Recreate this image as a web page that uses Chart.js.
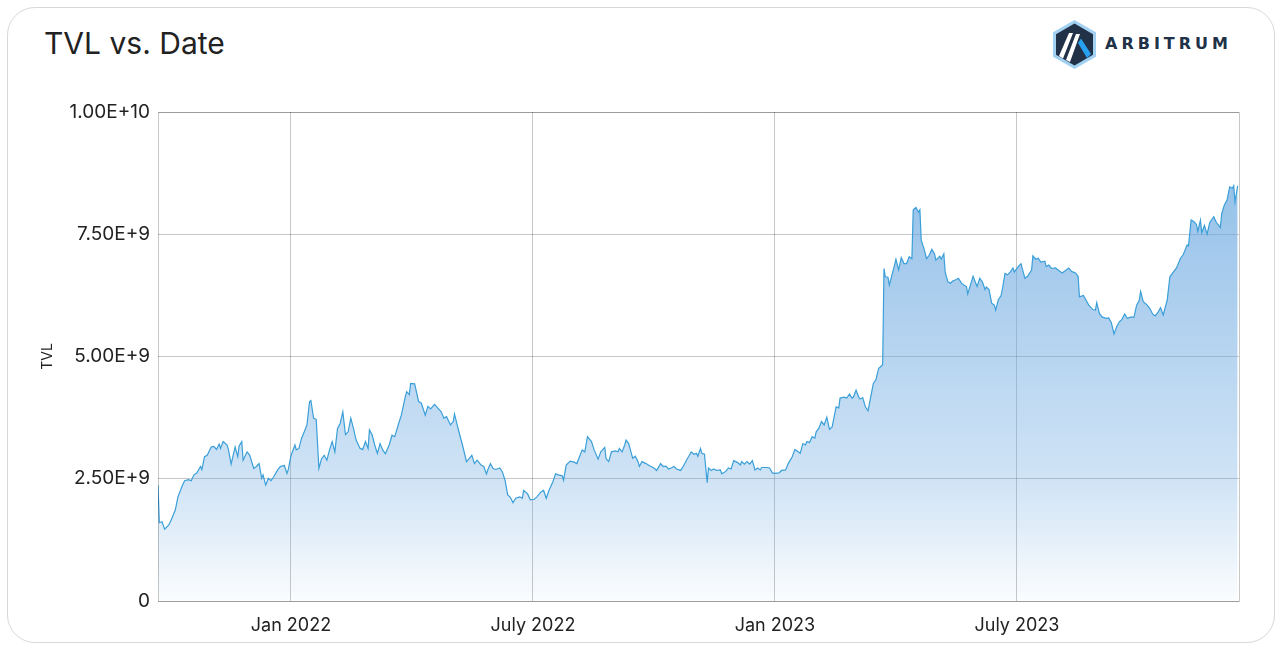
<!DOCTYPE html>
<html>
<head>
<meta charset="utf-8">
<script src="https://cdn.jsdelivr.net/npm/chart.js@4.4.1/dist/chart.umd.min.js"></script>
<style>
  body { margin: 0; background: #fff; font-family: Inter, "Noto Sans", sans-serif; }
  #pagina { position: relative; width: 1281px; height: 645px; overflow: hidden; }
  .tarjeta { position: absolute; left: 7px; top: 7px; width: 1268px; height: 636px; box-sizing: border-box;
             border: 1px solid #d8d8d8; border-radius: 28px; }
  .titulo { position: absolute; left: 44px; top: 28px; font-size: 30px; line-height: 1; color: #222; }
  .logo { position: absolute; left: 1053px; top: 20px; }
  .marca { position: absolute; left: 1105px; top: 36px; font-family: "DejaVu Sans", sans-serif; font-size: 16px;
           line-height: 1; font-weight: 700; letter-spacing: 4px; color: #213147; }
  canvas { position: absolute; left: 0; top: 0; }
</style>
</head>
<body>
<div id="pagina">
  <div class="tarjeta"></div>
  <div class="titulo">TVL vs. Date</div>
  <svg class="logo" width="43" height="49" viewBox="0 0 43 49">
    <polygon points="21.5,0 43,12.25 43,36.75 21.5,49 0,36.75 0,12.25" fill="#a3d1f2"/>
    <polygon points="21.5,3.5 40,14.2 40,34.8 21.5,45.5 3,34.8 3,14.2" fill="#213147"/>
    <polygon points="6,36 10,38.5 20,13 16,13" fill="#fff"/>
    <polygon points="13,40 17,42 27,14 23,14" fill="#fff"/>
    <polygon points="25,23 28,18.5 38,34 34,38" fill="#28a0f0"/>
  </svg>
  <div class="marca">ARBITRUM</div>
  <canvas id="grafico" width="1281" height="645"></canvas>
</div>
<script>
// dias desde el 1 ene 2022, TVL en miles de millones de USD
const dias = [
  -100, -99, -97, -95, -92, -90, -87, -85, -82, -80, -77, -75, -73, -71, -68, -67, -65, -63, -60, -58,
  -56, -54, -53, -51, -48, -47, -45, -42, -40, -39, -37, -36, -33, -31, -28, -26, -24, -22, -21, -19,
  -17, -15, -13, -10, -8, -5, -3, -2, 0, 3, 4, 6, 8, 10, 12, 14, 15, 17, 19, 21,
  23, 25, 27, 29, 31, 33, 35, 37, 39, 41, 43, 45, 47, 49, 52, 54, 56, 58, 59, 61,
  63, 65, 67, 69, 71, 74, 76, 78, 81, 83, 86, 87, 89, 90, 93, 96, 98, 101, 103, 105,
  108, 111, 113, 115, 117, 120, 122, 123, 125, 127, 129, 132, 134, 136, 138, 140, 143, 145, 147, 148,
  150, 152, 154, 157, 159, 161, 163, 165, 167, 169, 172, 174, 175, 178, 180, 183, 185, 188, 190, 192,
  194, 197, 199, 201, 204, 205, 207, 210, 213, 215, 217, 219, 221, 223, 226, 228, 231, 233, 236, 237,
  239, 241, 244, 246, 247, 249, 251, 252, 254, 256, 257, 259, 261, 262, 264, 267, 270, 273, 275, 278,
  280, 282, 284, 286, 288, 290, 293, 295, 298, 299, 301, 303, 305, 306, 308, 309, 311, 313, 314, 316,
  318, 320, 323, 324, 327, 329, 331, 333, 336, 338, 339, 341, 343, 345, 347, 349, 351, 353, 354, 358,
  360, 362, 364, 367, 369, 372, 374, 377, 379, 383, 385, 387, 388, 390, 392, 394, 395, 397, 399, 401,
  403, 405, 407, 410, 412, 413, 416, 418, 420, 422, 423, 425, 427, 428, 430, 432, 434, 436, 438, 440,
  442, 443, 445, 446, 447, 449, 450, 453, 455, 457, 459, 461, 463, 465, 467, 468, 470, 472, 473, 474,
  476, 478, 480, 482, 484, 485, 488, 489, 491, 492, 494, 496, 498, 500, 502, 504, 506, 508, 509, 511,
  513, 514, 516, 518, 520, 522, 523, 525, 527, 529, 530, 532, 534, 535, 537, 539, 541, 543, 544, 547,
  549, 552, 554, 557, 558, 560, 562, 564, 567, 568, 570, 572, 575, 577, 580, 582, 585, 587, 590, 592,
  593, 596, 598, 600, 603, 605, 606, 608, 610, 613, 615, 617, 619, 621, 623, 625, 627, 629, 632, 634,
  636, 638, 639, 641, 644, 646, 648, 650, 652, 654, 656, 659, 661, 664, 666, 669, 671, 674, 675, 677,
  679, 681, 682, 684, 685, 687, 689, 691, 694, 696, 699, 700, 702, 704, 706, 708, 709, 710, 712
];

const tvl = [
  2.37, 1.60, 1.62, 1.47, 1.55, 1.66, 1.86, 2.13, 2.34, 2.46, 2.48, 2.46, 2.58, 2.61, 2.75, 2.69, 2.95, 2.98, 3.15, 3.16,
  3.10, 3.21, 3.12, 3.26, 3.19, 3.09, 2.80, 3.15, 2.95, 3.17, 3.26, 2.88, 3.05, 2.98, 2.71, 2.75, 2.81, 2.51, 2.58, 2.37,
  2.51, 2.46, 2.54, 2.68, 2.75, 2.77, 2.61, 2.69, 2.97, 3.19, 3.09, 3.12, 3.33, 3.46, 3.60, 4.08, 4.10, 3.74, 3.71, 2.71,
  2.91, 2.98, 2.88, 3.09, 3.26, 3.05, 3.53, 3.63, 3.87, 3.40, 3.46, 3.74, 3.53, 3.29, 3.12, 3.10, 3.26, 3.12, 3.50, 3.40,
  3.19, 3.02, 3.22, 3.09, 3.01, 3.20, 3.39, 3.36, 3.63, 3.80, 4.18, 4.28, 4.22, 4.45, 4.44, 4.08, 4.05, 3.80, 3.98, 3.93,
  4.02, 3.93, 3.87, 3.74, 3.77, 3.60, 3.67, 3.82, 3.60, 3.39, 3.19, 2.85, 2.91, 2.98, 2.81, 2.88, 2.78, 2.75, 2.60, 2.68,
  2.81, 2.71, 2.69, 2.72, 2.64, 2.47, 2.17, 2.12, 2.01, 2.10, 2.13, 2.10, 2.26, 2.19, 2.07, 2.08, 2.13, 2.23, 2.26, 2.10,
  2.26, 2.44, 2.60, 2.58, 2.56, 2.47, 2.78, 2.86, 2.84, 2.81, 2.95, 3.09, 3.05, 3.36, 3.26, 3.09, 2.90, 3.05, 3.14, 2.91,
  2.85, 3.05, 3.07, 3.05, 3.12, 3.05, 3.19, 3.29, 3.22, 3.02, 2.92, 2.96, 2.85, 2.75, 2.85, 2.81, 2.76, 2.72, 2.67, 2.81,
  2.75, 2.76, 2.70, 2.72, 2.75, 2.70, 2.67, 2.75, 2.91, 2.95, 3.05, 3.00, 3.02, 2.96, 3.12, 3.02, 3.00, 2.42, 2.72, 2.67,
  2.70, 2.67, 2.68, 2.60, 2.65, 2.72, 2.70, 2.87, 2.83, 2.78, 2.85, 2.80, 2.85, 2.80, 2.87, 2.68, 2.72, 2.68, 2.73, 2.73,
  2.72, 2.62, 2.61, 2.62, 2.67, 2.68, 2.81, 2.95, 3.10, 3.02, 3.22, 3.19, 3.26, 3.24, 3.36, 3.33, 3.46, 3.53, 3.67, 3.60,
  3.76, 3.51, 3.56, 3.97, 3.95, 4.15, 4.17, 4.15, 4.23, 4.15, 4.17, 4.31, 4.17, 4.13, 4.16, 3.97, 3.89, 4.17, 4.45, 4.53,
  4.76, 4.78, 4.83, 6.80, 6.63, 6.62, 6.46, 6.77, 6.99, 6.77, 7.02, 6.90, 6.90, 7.04, 7.00, 8.00, 8.05, 7.95, 8.00, 7.38,
  7.21, 7.00, 7.07, 7.19, 7.10, 6.97, 7.05, 6.99, 7.10, 6.73, 6.53, 6.50, 6.55, 6.57, 6.60, 6.51, 6.46, 6.43, 6.28, 6.46,
  6.64, 6.57, 6.43, 6.60, 6.53, 6.37, 6.42, 6.37, 6.09, 6.05, 5.95, 6.16, 6.24, 6.37, 6.70, 6.67, 6.73, 6.81, 6.73, 6.84,
  6.90, 6.60, 6.64, 6.77, 7.06, 6.99, 7.01, 6.93, 6.95, 6.84, 6.87, 6.80, 6.81, 6.77, 6.71, 6.75, 6.81, 6.74, 6.71, 6.64,
  6.22, 6.25, 6.15, 6.05, 5.96, 5.95, 6.10, 5.88, 5.81, 5.78, 5.79, 5.69, 5.46, 5.61, 5.71, 5.76, 5.87, 5.78, 5.81, 5.80,
  6.05, 6.15, 6.33, 6.12, 6.05, 5.98, 5.87, 5.83, 5.90, 6.00, 5.85, 6.15, 6.63, 6.74, 6.81, 7.01, 7.08, 7.28, 7.26, 7.79,
  7.76, 7.70, 7.56, 7.79, 7.53, 7.68, 7.50, 7.74, 7.86, 7.74, 7.64, 7.92, 8.10, 8.20, 8.47, 8.44, 8.49, 8.16, 8.49
];

const marcasDias = [0, 182, 364, 546];
const etiquetasFecha = ['Jan 2022', 'July 2022', 'Jan 2023', 'July 2023'];
const ticksTVL = [0, 2.5e9, 5e9, 7.5e9, 1e10];

const colorGrilla = 'rgba(0,0,0,0.22)';

const puntos = dias.map((d, i) => ({ x: d, y: tvl[i] * 1e9 }));

function rellenoDegradado(context) {
  const area = context.chart.chartArea;
  if (!area) return 'rgba(110,170,225,0.4)';
  const g = context.chart.ctx.createLinearGradient(0, area.top, 0, area.bottom);
  g.addColorStop(0, 'rgba(110,170,225,0.82)');
  g.addColorStop(0.75, 'rgba(110,170,225,0.33)');
  g.addColorStop(1, 'rgba(110,170,225,0.03)');
  return g;
}

// marco completo alrededor del area del grafico
const marco = {
  id: 'marco',
  afterDatasetsDraw(chart) {
    const a = chart.chartArea;
    const c = chart.ctx;
    c.save();
    c.strokeStyle = colorGrilla;
    c.lineWidth = 1;
    c.strokeRect(Math.round(a.left) + 0.5, Math.round(a.top) + 0.5, Math.round(a.right - a.left), Math.round(a.bottom - a.top));
    c.restore();
  }
};

const ctx = document.getElementById('grafico').getContext('2d');
new Chart(ctx, {
  type: 'line',
  data: {
    datasets: [{
      label: 'TVL',
      data: puntos,
      borderColor: '#3a9fd8',
      borderWidth: 1.2,
      pointRadius: 0,
      tension: 0,
      fill: 'origin',
      backgroundColor: rellenoDegradado
    }]
  },
  options: {
    responsive: false,
    animation: false,
    layout: { padding: { left: 35, top: 112, right: 42, bottom: 0 } },
    plugins: { legend: { display: false }, tooltip: { enabled: false } },
    scales: {
      x: {
        type: 'linear',
        min: -100,
        max: 713,
        border: { display: false },
        grid: { color: colorGrilla, drawTicks: false },
        afterBuildTicks(scale) { scale.ticks = marcasDias.map(v => ({ value: v })); },
        afterFit(scale) { scale.height = 44; },
        ticks: {
          color: '#222',
          padding: 14,
          maxRotation: 0,
          font: { family: 'Inter', size: 18 },
          callback: v => etiquetasFecha[marcasDias.indexOf(v)] || ''
        }
      },
      y: {
        min: 0,
        max: 1e10,
        border: { display: false },
        grid: { color: colorGrilla, drawTicks: false },
        afterBuildTicks(scale) { scale.ticks = ticksTVL.map(v => ({ value: v })); },
        afterFit(scale) { scale.width = 123; },
        title: { display: true, text: 'TVL', color: '#222', font: { family: 'Inter', size: 14 }, padding: 4 },
        ticks: {
          color: '#222',
          padding: 8,
          font: { family: 'Inter', size: 19 },
          callback: v => v === 0 ? '0' : v.toExponential(2).toUpperCase()
        }
      }
    }
  },
  plugins: [marco]
});
</script>
</body>
</html>
